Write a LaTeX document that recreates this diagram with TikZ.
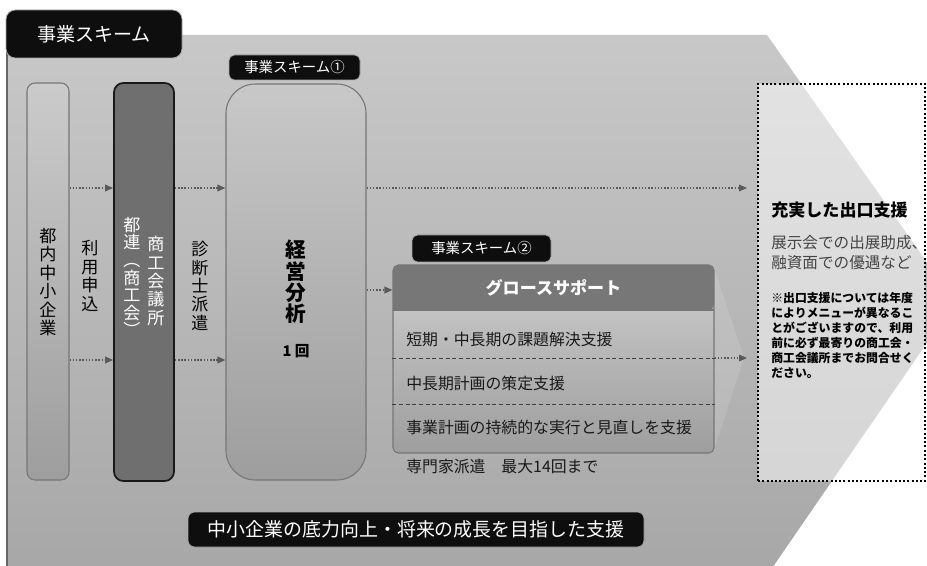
\documentclass[tikz,border=0pt]{standalone}
\usepackage{fontspec}
\setmainfont{Noto Sans CJK JP}
\usetikzlibrary{arrows.meta,fit}
\definecolor{bgtop}{HTML}{C8C8C8}
\definecolor{bgbot}{HTML}{A6A6A6}
\definecolor{edge}{HTML}{767676}
\definecolor{darkbox}{HTML}{6F6F6F}
\definecolor{hdr}{HTML}{777777}
\definecolor{arrc}{HTML}{5A5A5A}
\definecolor{tabblack}{HTML}{0E0E0E}
\definecolor{subtxt}{HTML}{454545}
\tikzset{
  tab/.style={fill=tabblack, draw=gray!70, line width=0.6pt, inner sep=0pt},
  tabtext/.style={text=white, inner sep=0pt},
  lightbox/.style={top color=#1, bottom color=bgbot!95!black, draw=edge, line width=0.8pt, inner sep=0pt},
  vtext/.style={align=center, inner sep=0pt, font=\fontsize{12.8}{13.8}\selectfont},
  flow/.style={draw=arrc, line width=1.1pt, dash pattern=on 1.1pt off 1.3pt, -{Triangle[length=6pt,width=5pt]}},
  rowtext/.style={anchor=west, inner sep=0pt, font=\fontsize{11.9}{13}\selectfont, text=black!90},
  sep/.style={draw=black!75, line width=0.7pt, dash pattern=on 3pt off 2pt},
}
\begin{document}
\begin{tikzpicture}[x=0.75pt,y=-0.75pt]
\useasboundingbox (0,0) rectangle (927,566);
\begin{scope}
\clip (0,0) rectangle (927,566);
% big background arrow
\shade[top color=bgtop, bottom color=bgbot] (7,35) -- (767,35) -- (955,302) -- (757,590) -- (7,590) -- cycle;
\draw[draw=gray!80!black, line width=1pt] (7,35) -- (7,590);
% subtle chevron right of growth box
\fill[white, opacity=0.12] (714,268) -- (744,358) -- (714,450) -- cycle;
% exit box
\node[fill=white, fill opacity=0.5, draw=black, line width=1.5pt, dash pattern=on 1.5pt off 1.7pt, inner sep=0pt, fit={(758,84) (925,481)}] (exit) {};
\end{scope}

% title tab
\node[tab, rounded corners=7pt, fit={(6,10) (182,58)}] (title) {};
\node[tabtext, font=\fontsize{14.3}{15}\selectfont] (titletxt) at (title.center) {事業スキーム};

% column boxes
\node[lightbox=bgtop!95!white, rounded corners=6pt, fit={(27,83) (69,480)}] (corp) {};
\node[vtext] (corptxt) at (48,282) {都\\内\\中\\小\\企\\業};

\node[vtext] (apply) at (90,276) {利\\用\\申\\込};

\node[fill=darkbox, draw=black!90, line width=1.3pt, rounded corners=7pt, inner sep=0pt, fit={(114,83) (174,481)}] (cci) {};
\node[vtext, text=white] (cci1) at (156,281) {商\\工\\会\\議\\所};
\node[vtext, text=white, font=\fontsize{12.8}{13.2}\selectfont] (cci2) at (132,277) {都\\連\\︵\\商\\工\\会\\︶};

\node[vtext] (dispatch) at (200,286) {診\\断\\士\\派\\遣};

% scheme 1
\node[tab, rounded corners=4pt, fit={(229,55) (360,80)}] (tab1) {};
\node[tabtext, font=\fontsize{10.8}{12}\selectfont] (tab1txt) at (tab1.center) {事業スキーム①};
\node[lightbox=bgtop, rounded corners=22pt, fit={(226,84) (366,480)}] (keiei) {};
\node[vtext, font=\bfseries\fontsize{15.5}{16}\selectfont] (keieitxt) at (296,282) {経\\営\\分\\析};
\node[inner sep=0pt, font=\bfseries\fontsize{11}{12}\selectfont] (once) at (296,351) {1 回};

% scheme 2
\node[tab, rounded corners=4pt, fit={(412,235) (551,262)}] (tab2) {};
\node[tabtext, font=\fontsize{10.8}{12}\selectfont] (tab2txt) at (tab2.center) {事業スキーム②};
\node[lightbox=bgtop!90!white, rounded corners=4pt, fit={(393,265) (714,453)}] (gross) {};
\fill[hdr, rounded corners=4pt] (393,310) -- (393,265) -- (714,265) -- (714,310) [sharp corners] -- cycle;
\draw[edge, line width=0.8pt] (393,310) -- (714,310);
\node[inner sep=0pt, text=white, font=\bfseries\fontsize{12.8}{14}\selectfont] (grosshdr) at (553.5,288) {グロースサポート};
\draw[sep] (gross.west |- 0,358) -- (gross.east |- 0,358);
\draw[sep] (gross.west |- 0,404) -- (gross.east |- 0,404);
\node[rowtext] (row1) at (406,339) {短期・中長期の課題解決支援};
\node[rowtext] (row2) at (406,383) {中長期計画の策定支援};
\node[rowtext] (row3) at (406,427) {事業計画の持続的な実行と見直しを支援};
\node[rowtext] (experts) at (406,467) {専門家派遣　最大14回まで};

% bottom banner
\node[tab, rounded corners=5pt, fit={(188,512) (644,547)}] (banner) {};
\node[tabtext, font=\fontsize{14.2}{15}\selectfont] (bannertxt) at (banner.center) {中小企業の底力向上・将来の成長を目指した支援};

% exit text
\node[anchor=west, inner sep=0pt, font=\bfseries\fontsize{12.8}{14}\selectfont] (exittitle) at (771,210) {充実した出口支援};
\node[anchor=north west, inner sep=0pt, align=left, text=subtxt, font=\fontsize{11.7}{15}\selectfont] (exitsub) at (771,235) {展示会での出展助成、\\融資面での優遇など};
\node[anchor=north west, inner sep=0pt, align=left, font=\bfseries\fontsize{8.9}{11.25}\selectfont] (exitnote) at (771,292) {※出口支援については年度\\によりメニューが異なるこ\\とがございますので、利用\\前に必ず最寄りの商工会・\\商工会議所までお問合せく\\ださい。};

% connectors
\coordinate (ya) at (0,188);
\coordinate (yb) at (0,360);
\coordinate (yc) at (0,290);
\coordinate (yd) at (0,358);
\draw[flow] (corp.east |- ya) -- (cci.west |- ya);
\draw[flow] (corp.east |- yb) -- (cci.west |- yb);
\draw[flow] (cci.east |- ya) -- (keiei.west |- ya);
\draw[flow] (cci.east |- yb) -- (keiei.west |- yb);
\draw[flow, shorten >=7.5pt] (keiei.east |- ya) -- (exit.west |- ya);
\draw[flow] (keiei.east |- yc) -- (gross.west |- yc);
\draw[flow, shorten >=7.5pt] (gross.east |- yd) -- (exit.west |- yd);
\end{tikzpicture}
\end{document}
